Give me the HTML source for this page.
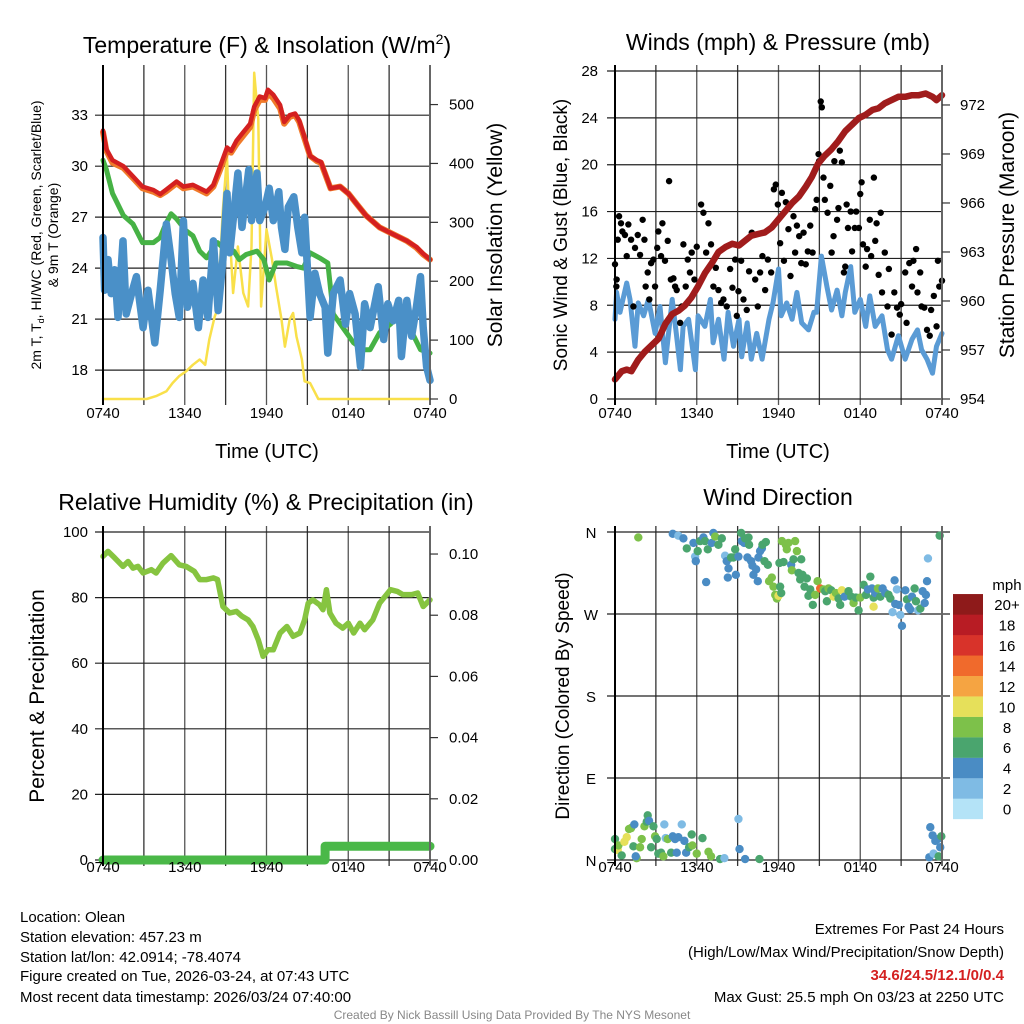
<!DOCTYPE html>
<html><head><meta charset="utf-8">
<style>
html,body{margin:0;padding:0;background:#fff;}
svg{display:block;font-family:"Liberation Sans",Arial,sans-serif;}
</style></head>
<body>
<svg id="chart" width="1024" height="1024" viewBox="0 0 1024 1024">
<rect width="1024" height="1024" fill="#fff"/>
<g id="grids"></g>
<g id="marks"></g>
<g id="axes"></g>
<!-- titles -->
<text x="267" y="53" font-size="23" text-anchor="middle">Temperature (F) &amp; Insolation (W/m<tspan dy="-9" font-size="14">2</tspan><tspan dy="9">)</tspan></text>
<text x="778" y="50" font-size="23" text-anchor="middle">Winds (mph) &amp; Pressure (mb)</text>
<text x="266" y="510" font-size="23" text-anchor="middle">Relative Humidity (%) &amp; Precipitation (in)</text>
<text x="778" y="505" font-size="23" text-anchor="middle">Wind Direction</text>
<!-- axis titles -->
<text x="267" y="458" font-size="20" text-anchor="middle">Time (UTC)</text>
<text x="778" y="458" font-size="20" text-anchor="middle">Time (UTC)</text>
<text transform="translate(41,235) rotate(-90)" font-size="14" text-anchor="middle">2m T, T<tspan dy="3" font-size="9">d</tspan><tspan dy="-3">, HI/WC (Red, Green, Scarlet/Blue)</tspan></text>
<text transform="translate(58,235) rotate(-90)" font-size="14" text-anchor="middle">&amp; 9m T (Orange)</text>
<text transform="translate(502,235) rotate(-90)" font-size="21" text-anchor="middle">Solar Insolation (Yellow)</text>
<text transform="translate(567,235) rotate(-90)" font-size="19" text-anchor="middle">Sonic Wind &amp; Gust (Blue, Black)</text>
<text transform="translate(1014,235) rotate(-90)" font-size="21" text-anchor="middle">Station Pressure (Maroon)</text>
<text transform="translate(44,696) rotate(-90)" font-size="21" text-anchor="middle">Percent &amp; Precipitation</text>
<text transform="translate(569,696) rotate(-90)" font-size="19" text-anchor="middle">Direction (Colored By Speed)</text>
<!-- colorbar label -->
<text x="1007" y="590" font-size="15" text-anchor="middle">mph</text>
<g id="colorbar"></g>
<!-- footer -->
<g font-size="15">
<text x="20" y="922">Location: Olean</text>
<text x="20" y="942">Station elevation: 457.23 m</text>
<text x="20" y="962">Station lat/lon: 42.0914; -78.4074</text>
<text x="20" y="981">Figure created on Tue, 2026-03-24, at 07:43 UTC</text>
<text x="20" y="1002">Most recent data timestamp: 2026/03/24 07:40:00</text>
</g>
<g font-size="15" text-anchor="end">
<text x="1004" y="934">Extremes For Past 24 Hours</text>
<text x="1004" y="957">(High/Low/Max Wind/Precipitation/Snow Depth)</text>
<text x="1004" y="980" fill="#d42020" font-weight="bold">34.6/24.5/12.1/0/0.4</text>
<text x="1004" y="1002">Max Gust: 25.5 mph On 03/23 at 2250 UTC</text>
</g>
<text x="512" y="1019" font-size="12" fill="#888" text-anchor="middle">Created By Nick Bassill Using Data Provided By The NYS Mesonet</text>
</svg>
<script>
// ---------- DATA ----------
const timeTicks = ["0740","1340","1940","0140","0740"];
// Temperature panel
const redT_h = [0,0.25,0.7,1.5,2.2,2.9,3.7,4.2,4.6,5.4,5.9,6.6,7.6,8.1,8.6,9.1,9.4,9.8,10.3,10.8,11.1,11.5,11.9,12.1,12.5,13.0,13.3,13.7,14.1,14.4,14.8,15.2,15.7,16.0,16.7,17.4,18.0,18.6,19.3,20.3,21.3,22.3,23.0,23.5,24.0];
const redT_v = [32.1,31.0,30.35,30.0,29.4,28.8,28.6,28.35,28.6,29.1,28.8,28.9,28.5,28.9,30.0,31.1,30.9,31.5,32.0,32.5,33.5,34.1,34.0,34.5,34.2,33.6,32.6,33.0,33.1,32.7,31.7,30.6,30.35,30.25,28.7,28.8,28.4,27.8,27.1,26.4,26.0,25.6,25.25,24.85,24.5];
const orangeT_v = [32.0,30.9,30.2,29.9,29.3,28.7,28.5,28.3,28.5,29.0,28.7,28.8,28.4,28.8,29.8,30.9,30.8,31.3,31.8,32.3,33.3,33.9,33.9,34.3,34.0,33.4,32.5,32.9,33.0,32.6,31.6,30.6,30.3,30.2,28.7,28.8,28.4,27.8,27.1,26.4,26.0,25.6,25.2,24.8,24.5];
const greenTd_h = [0,0.25,0.7,1.5,2.2,2.9,3.7,4.2,4.6,5.0,5.4,6.1,6.6,7.1,7.6,8.1,8.4,8.8,9.6,10.0,10.5,11.3,11.8,12.2,12.7,13.5,14.2,14.7,15.2,15.9,16.5,16.9,17.6,18.4,19.1,19.6,20.3,21.1,21.8,22.5,23.3,24.0];
const greenTd_v = [30.35,29.8,28.4,27.1,26.6,25.5,25.5,25.8,26.6,27.2,26.9,26.2,25.9,25.0,24.6,25.2,25.5,25.2,25.0,24.5,24.8,25.0,24.5,23.3,24.3,24.3,24.1,24.0,24.9,24.6,24.3,21.3,20.5,19.6,19.2,19.2,20.2,20.7,21.3,20.5,19.2,19.0];
const blueWC_h = [0,0.12,0.37,0.6,0.86,1.1,1.47,1.7,2.1,2.45,2.94,3.3,3.8,4.2,4.65,5.0,5.3,5.6,5.9,6.2,6.6,7.0,7.35,7.7,8.1,8.45,8.8,9.1,9.3,9.55,9.9,10.2,10.7,10.9,11.3,11.5,11.9,12.2,12.5,12.9,13.1,13.35,13.6,14.0,14.3,14.6,14.8,15.2,15.55,15.9,16.3,16.5,16.9,17.4,17.8,18.1,18.5,18.9,19.2,19.6,19.8,20.2,20.6,20.9,21.3,21.7,21.9,22.3,22.65,23.0,23.3,23.5,23.75,24.0];
const blueWC_v = [25.8,22.7,24.5,22.5,23.9,21.1,25.6,21.3,22.5,23.5,20.5,22.7,19.6,22.7,26.6,24.5,22.5,21.1,26.8,21.7,23.1,20.5,23.3,21.1,25.6,21.5,24.5,28.4,24.9,26.8,29.6,26.4,29.8,26.8,29.6,26.8,27.6,28.7,26.8,28.5,26.4,25.1,27.6,28.2,26.4,24.9,27.0,21.1,23.7,22.5,21.7,19.0,22.5,23.3,20.7,22.5,21.3,18.2,21.9,20.5,21.3,22.9,19.8,21.9,20.9,22.1,18.8,22.1,20.0,21.7,23.5,20.5,18.2,17.4];
const solar_h = [0,3.2,3.9,4.65,5.1,5.6,6.1,6.6,7.1,7.5,7.8,8.2,8.4,8.8,9.1,9.3,9.55,9.9,10.3,10.65,10.9,11.1,11.4,11.6,12.0,12.4,12.7,13.1,13.35,13.7,13.95,14.2,14.6,14.8,15.2,15.8,24];
const solar_v = [0,0,5,13,27,39,47,58,67,58,101,140,152,322,412,282,180,259,180,157,259,554,475,157,288,237,191,135,89,135,146,106,67,30,27,0,0];
const tempTicks = [18,21,24,27,30,33];
const solarTicks = [0,100,200,300,400,500];
// Wind panel
const press_h = [0,0.5,0.86,1.2,1.7,2.2,2.7,3.2,3.7,4.2,4.65,5.1,5.6,6.1,6.6,7.1,7.6,8.1,8.6,9.1,9.55,10.0,10.5,11.0,11.5,12.0,12.5,13.0,13.5,14.0,14.45,14.9,15.4,15.9,16.4,16.9,17.4,17.9,18.4,18.9,19.35,19.8,20.3,20.8,21.3,21.8,22.3,22.8,23.3,23.6,24];
const press_v = [955.2,955.7,955.8,955.7,956.4,956.9,957.3,957.7,958.6,959.2,959.4,959.7,960.2,960.9,961.7,962.3,963.0,963.3,963.5,963.4,963.7,964.0,964.1,964.2,964.5,965.0,965.5,966.0,966.4,967.0,967.6,968.4,968.9,969.3,969.8,970.4,970.8,971.2,971.4,971.7,971.8,972.1,972.3,972.5,972.5,972.6,972.6,972.7,972.5,972.3,972.6];
const wind_h = [0,0.12,0.37,0.86,1.1,1.47,1.7,2.1,2.45,2.94,3.3,3.7,4.2,4.5,4.8,5.0,5.4,5.9,6.1,6.6,7.0,7.2,7.6,8.0,8.3,8.7,9.1,9.3,9.7,10.0,10.4,10.8,11.3,11.6,12.0,12.2,12.6,13.0,13.35,13.7,14.2,14.6,14.8,15.15,15.55,15.9,16.3,16.65,16.9,17.3,17.6,18.0,18.4,18.7,19.1,19.6,20.0,20.3,20.8,21.3,21.8,22.2,22.5,22.9,23.3,23.6,24];
const wind_v = [6.8,9.1,7.4,9.9,8.5,4.5,8.2,7.1,8.5,5.6,7.9,3.1,8.5,5.6,2.5,6.2,6.8,2.5,7.1,6.2,8.5,4.8,6.8,3.4,7.4,4.5,6.8,3.6,6.5,3.4,5.6,3.4,6.8,8.2,11.1,7.1,8.2,6.8,9.1,6.5,5.9,7.4,7.4,12.2,9.6,7.6,9.3,7.1,9.1,11.3,7.4,8.5,6.2,8.8,6.2,7.1,4.2,3.4,5.4,3.4,5.1,5.9,4.2,3.4,2.2,4.5,5.6];
const gust_h = [0,0.1,0.12,0.2,0.3,0.44,0.54,0.73,0.86,0.98,1.18,1.35,1.47,1.67,1.84,2.03,2.16,2.25,2.4,2.52,2.65,2.82,2.94,3.1,3.18,3.38,3.48,3.67,3.87,3.97,4.1,4.29,4.41,4.53,4.78,4.9,5.02,5.19,5.34,5.5,5.63,5.83,6.0,6.32,6.49,6.69,6.86,7.05,7.22,7.4,7.59,7.79,7.96,8.2,8.45,8.62,8.82,8.94,9.06,9.26,9.43,9.67,9.84,10.04,10.29,10.48,10.65,10.82,11.02,11.22,11.46,11.66,11.8,11.95,12.12,12.25,12.4,12.54,12.73,12.88,13.1,13.22,13.35,13.52,13.67,13.84,14.0,14.15,14.33,14.5,14.69,14.8,14.94,14.98,15.1,15.18,15.3,15.4,15.6,15.8,15.9,16.04,16.1,16.3,16.4,16.5,16.65,16.8,16.9,17.0,17.1,17.3,17.4,17.6,17.7,17.9,18.0,18.1,18.2,18.4,18.5,18.7,18.8,19.0,19.1,19.2,19.35,19.5,19.6,19.8,20.0,20.1,20.3,20.5,20.7,20.9,21.0,21.3,21.4,21.6,21.8,21.9,22.1,22.2,22.4,22.5,22.7,22.9,23.1,23.2,23.4,23.6,23.7,23.8,24];
const gust_v = [11.5,9.6,10.2,13.6,15.6,15.0,14.3,14.0,12.2,14.9,13.6,7.9,12.9,14.0,12.3,15.3,13.6,9.6,10.8,8.5,11.6,11.9,9.6,12.9,14.3,12.2,15.0,11.8,13.5,18.6,10.2,10.3,9.6,9.3,6.5,7.9,13.2,9.6,11.9,10.8,12.5,10.2,13.0,16.6,15.9,12.5,15.0,13.2,9.6,11.2,9.3,8.2,8.5,7.9,11.1,9.5,11.9,7.1,9.2,11.8,8.5,7.6,10.9,14.2,10.2,7.9,10.8,12.2,9.3,11.9,10.8,17.9,18.3,16.6,13.3,17.6,11.8,16.8,14.5,10.5,15.6,12.5,14.8,13.9,11.6,14.2,11.5,12.6,14.8,12.5,16.2,17.0,20.9,20.3,25.4,24.9,18.9,17.0,15.9,18.2,12.5,13.9,20.3,15.3,16.3,21.2,20.2,10.8,11.3,16.6,14.6,16.0,12.6,14.6,16.0,14.6,17.5,18.5,13.2,11.3,12.8,15.3,12.2,18.9,13.5,15.0,10.6,15.9,9.1,12.5,7.9,11.1,5.5,9.1,7.8,7.2,8.1,10.8,6.5,11.6,9.6,11.8,12.8,9.1,10.8,7.9,7.8,5.9,5.4,7.6,8.8,6.2,11.8,9.6,10.1];
const windTicks = [0,4,8,12,16,20,24,28];
const pressTicks = [954,957,960,963,966,969,972];
// Humidity panel
const rh_h = [0,0.37,0.86,1.47,1.84,2.2,2.57,2.94,3.55,3.9,4.4,5.0,5.6,6.1,6.7,7.1,7.6,8.1,8.4,8.8,9.3,9.8,10.2,10.65,11.0,11.4,11.75,12.1,12.5,13.0,13.5,13.95,14.45,14.8,15.06,15.4,15.9,16.15,16.4,16.65,17.1,17.6,18.0,18.4,18.86,19.2,19.8,20.3,21.1,21.6,22.0,22.65,23.1,23.5,24];
const rh_v = [92.6,94.1,92.1,89.5,91.0,89.0,89.5,87.5,88.5,87.5,90.5,92.8,90.0,89.5,88.0,85.5,85.5,86.0,85.5,77.3,75.3,75.8,74.3,73.2,71.2,67.1,62.1,64.1,64.1,69.2,71.2,68.2,69.2,73.2,78.3,79.3,77.8,76.3,82.4,75.3,72.2,70.7,72.2,69.2,72.2,70.2,73.2,78.3,82.4,81.9,80.9,80.9,81.4,77.3,79.3];
const precip_h = [0,16.3,16.3,24];
const precip_v = [0,0,0.0045,0.0045];
const rhTicks = [0,20,40,60,80,100];
const precipTicks = ["0.00","0.02","0.04","0.06","0.08","0.10"];
// Direction panel
const dir_h = [1.71,4.24,4.65,5.02,5.27,5.76,5.88,5.93,6.07,6.25,6.49,6.61,6.69,6.81,7.10,7.22,7.35,7.59,7.84,8.08,8.20,8.33,8.28,8.52,8.69,8.82,8.87,9.06,9.26,9.31,9.48,9.55,9.72,9.80,9.84,9.99,10.09,10.16,10.36,10.48,10.53,10.65,10.78,10.82,10.97,11.07,11.22,11.31,11.51,11.63,11.76,11.88,12.00,12.12,12.20,12.07,12.25,12.37,12.54,12.61,12.73,12.93,12.98,13.10,13.22,13.35,13.47,13.59,13.67,13.76,13.91,14.08,14.20,14.33,14.52,14.69,14.87,15.06,15.31,15.43,15.55,15.67,15.87,16.04,16.21,16.41,16.53,16.65,16.85,17.14,17.34,17.51,17.68,17.88,18.00,18.25,18.42,18.56,18.74,18.86,18.98,19.10,18.98,19.30,19.47,19.64,19.84,20.08,20.21,20.37,20.52,20.57,20.69,20.82,20.94,21.06,21.31,21.43,21.55,21.67,21.80,21.99,22.09,22.24,22.41,22.58,22.73,22.82,22.90,22.97,23.83,
 0,0,0.2,0.25,0.49,0.69,0.86,1.03,1.18,1.35,1.42,1.59,1.52,1.84,1.96,2.16,2.33,2.40,2.50,2.65,2.82,2.94,3.06,3.18,3.38,3.55,3.62,3.72,3.87,4.12,4.24,4.41,4.53,4.65,4.90,5.09,5.22,5.44,5.63,5.68,6.00,6.42,6.86,7.05,7.71,8.03,9.06,9.14,9.55,10.60,23.14,23.31,23.51,23.70,23.87,23.95,23.07,23.38,23.75];
const dir_deg = [354,358,356,353,342,348,333,328,339,350,354,350,305,341,348,359,355,346,353,334,328,320,310,332,332,341,313,333,359,350,348,353,332,354,346,328,323,313,319,306,332,339,342,346,328,349,324,306,310,300,291,287,290,300,293,326,350,327,346,341,348,324,318,330,350,339,315,308,330,313,300,309,290,297,280,291,306,298,297,295,284,298,296,289,293,287,280,296,289,295,289,282,288,274,288,302,291,297,311,298,288,293,278,298,289,298,293,291,287,272,307,281,297,280,269,257,296,286,278,275,289,298,284,274,276,295,282,291,306,331,356,
 23,12,11,16,5,20,25,34,35,15,39,2,4,14,23,37,42,49,43,14,37,26,23,7,8,4,39,24,23,8,26,23,8,25,39,21,8,14,28,16,7,24,9,4,1,2,45,12,1,1,36,27,21,23,14,26,3,7,4];
const dir_spd = [9,5,3,5,7,5,3,5,7,7,5,7,5,7,5,5,9,7,7,3,5,5,5,7,7,7,5,5,7,5,5,7,5,7,7,5,5,5,5,5,5,5,5,7,7,7,7,9,9,9,9,9,11,7,7,7,9,7,9,9,9,5,9,7,9,9,7,7,7,7,7,7,7,7,7,9,9,15,9,7,7,9,7,11,9,7,7,11,5,7,7,9,7,7,9,7,7,5,7,5,7,5,11,9,7,5,5,7,7,3,5,5,3,5,3,5,5,7,5,5,5,7,7,3,7,5,5,5,5,3,7,
 7,7,11,9,7,11,11,9,9,7,5,9,5,9,9,9,7,7,5,7,7,9,7,7,7,9,3,3,9,7,5,5,5,5,3,5,5,7,7,9,9,7,9,9,7,3,3,5,5,7,5,5,5,5,5,7,5,3,7];
const dirTicks = ["N","E","S","W","N"];
const cbLabels = ["0","2","4","6","8","10","12","14","16","18","20+"];
const cbColors = ["#b4e3f7","#7fbbe4","#4a8cc4","#4aa56e","#7dc14a","#e6e05a","#f5a442","#f06a2c","#d8332a","#b81c24","#8e1a1a"];

// ---------- RENDERING ----------
const NS="http://www.w3.org/2000/svg";
const G=document.getElementById('grids'),M=document.getElementById('marks'),A=document.getElementById('axes');
function el(tag,parent,attrs){const e=document.createElementNS(NS,tag);for(const k in attrs)e.setAttribute(k,attrs[k]);parent.appendChild(e);return e;}
function scale(d0,d1,r0,r1){return v=>r0+(v-d0)/(d1-d0)*(r1-r0);}
const X0L=103,X1L=430,X0R=615,X1R=942;
const xL=scale(0,24,X0L,X1L), xR=scale(0,24,X0R,X1R);
function pathD(hs,vs,xs,ys){return hs.map((h,i)=>(i?'L':'M')+xs(h).toFixed(1)+','+ys(vs[i]).toFixed(1)).join('');}
function line(hs,vs,xs,ys,color,w,name){const p=el('path',M,{d:pathD(hs,vs,xs,ys),fill:'none',stroke:color,'stroke-width':w,'stroke-linejoin':'round','stroke-linecap':'round'});

return p;}
function panel(x0,x1,y0,y1,hLines,name,extendR){
  for(let i=0;i<=8;i++){const x=x0+(x1-x0)*i/8;const l=el('line',G,{x1:x,x2:x,y1:y0-6,y2:y1+6,stroke:i%2?'#333':'#555','stroke-width':1.3});
  
  }
  hLines.forEach(y=>{const l=el('line',G,{x1:x0-8,x2:x1+(extendR||0),y1:y,y2:y,stroke:'#222','stroke-width':1.2});
  
  });
  const b=el('line',A,{x1:x0,x2:x0,y1:y0-6,y2:y1+6,stroke:'#000','stroke-width':2});
  
  
  const r=el('line',A,{x1:x1,x2:x1,y1:y0-6,y2:y1+6,stroke:'#666','stroke-width':2});
  
  
}
function xlabels(x0,x1,y,name){timeTicks.forEach((t,i)=>{const tx=el('text',A,{x:x0+(x1-x0)*i/4,y:y,'font-size':15,'text-anchor':'middle'});tx.textContent=t;

});}
function ylabels(vals,ys,x,anchor,name,fs,tickX0,tickX1){vals.forEach(v=>{const y=ys(typeof v==='string'?parseFloat(v):v);
const tx=el('text',A,{x:x,y:y+5,'font-size':fs||15,'text-anchor':anchor});tx.textContent=v;


if(tickX0!==undefined){const tk=el('line',A,{x1:tickX0,x2:tickX1,y1:y,y2:y,stroke:'#333','stroke-width':1.2});

}});}

// Panel 1: temperature
const yT=scale(16.3,35.6,399,71), yS=scale(0,557,399,71);
panel(X0L,X1L,71,399,tempTicks.map(yT),'temp');
line(solar_h,solar_v,xL,yS,'#f9e04a',2.5,'solar-insolation-line');
line(greenTd_h,greenTd_v,xL,yT,'#46b245',5,'dewpoint-line');
line(blueWC_h,blueWC_v,xL,yT,'#4a90c8',7.5,'windchill-line');
line(redT_h,orangeT_v,xL,yT,'#f07a2a',6,'9m-temp-line');
line(redT_h,redT_v,xL,yT,'#d42020',4.5,'2m-temp-line');
ylabels(tempTicks,yT,88,'end','temp-y');
ylabels(solarTicks,yS,449,'start','solar-y',15,X1L,X1L+8);
xlabels(X0L,X1L,418,'temp');

// Panel 2: wind
const yW=scale(0,28,399,71), yP=scale(954,974.08,399,71);
panel(X0R,X1R,71,399,windTicks.map(yW),'wind');
line(wind_h,wind_v,xR,yW,'#5a9bd5',5,'sonic-wind-line');
gust_h.forEach((h,i)=>{const c=el('circle',M,{cx:xR(h),cy:yW(gust_v[i]),r:3.2,fill:'#000'});

});
line(press_h,press_v,xR,yP,'#a01c1c',6.5,'pressure-line');
ylabels(windTicks,yW,598,'end','wind-y');
ylabels(pressTicks,yP,960,'start','pressure-y',15,X1R,X1R+8);
xlabels(X0R,X1R,418,'wind');

// Panel 3: humidity
const yH=scale(0,100,860,532), yPr=scale(0,0.1072,860,532);
panel(X0L,X1L,532,860,rhTicks.map(yH),'humidity');
line(rh_h,rh_v,xL,yH,'#86c440',5.5,'humidity-line');
line(precip_h,precip_v,xL,yPr,'#4ab848',9,'precipitation-line');
ylabels(rhTicks,yH,88,'end','humidity-y');
ylabels(precipTicks,yPr,449,'start','precip-y',15,X1L,X1L+8);
xlabels(X0L,X1L,872,'humidity');

// Panel 4: direction
const yD=scale(0,360,860,532);
panel(X0R,X1R,532,860,[0,90,180,270,360].map(yD),'direction',8);
function spdColor(s){let i=Math.floor(s/2);if(i>10)i=10;if(i<0)i=0;return cbColors[i];}
dir_h.forEach((h,i)=>{const c=el('circle',M,{cx:xR(h),cy:yD(dir_deg[i]),r:4.2,fill:spdColor(dir_spd[i])});

});
dirTicks.forEach((t,i)=>{const tx=el('text',A,{x:591,y:yD(i*90)+6,'font-size':15,'text-anchor':'middle'});tx.textContent=t;

});
xlabels(X0R,X1R,872,'direction');

// colorbar
const CB=document.getElementById('colorbar');
cbColors.forEach((c,i)=>{const y=819-(i+1)*20.45;const r=el('rect',CB,{x:953,y:y,width:30,height:20.6,fill:c});


const tx=el('text',CB,{x:1007,y:y+16,'font-size':15,'text-anchor':'middle'});tx.textContent=cbLabels[i];

});
</script>
</body></html>
